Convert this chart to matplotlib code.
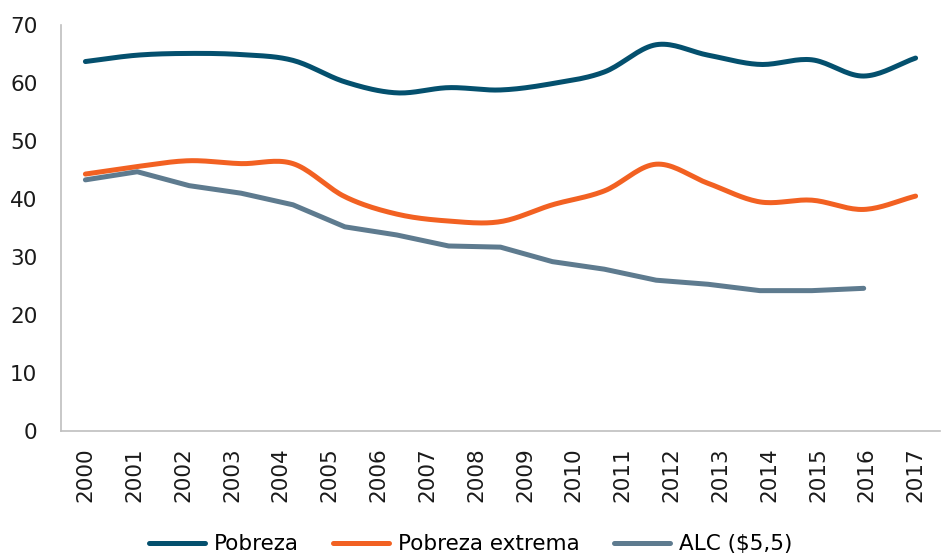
import matplotlib.pyplot as plt
import numpy as np

# etiquetas del eje
years = ['2000', '2001', '2002', '2003', '2004', '2005', '2006', '2007', '2008',
         '2009', '2010', '2011', '2012', '2013', '2014', '2015', '2016', '2017']

# series (17 puntos para pobreza, 16 para ALC)
pobreza = [63.7, 64.8, 65.1, 64.9, 63.9, 60.2, 58.3, 59.2, 58.8, 59.9, 61.9,
           66.6, 64.8, 63.2, 64.0, 61.2, 64.3]
pobreza_extrema = [44.3, 45.6, 46.6, 46.1, 46.1, 40.4, 37.4, 36.2, 36.1, 39.0,
                   41.4, 46.0, 42.7, 39.5, 39.8, 38.2, 40.5]
alc = [43.3, 44.7, 42.3, 41.0, 39.0, 35.2, 33.8, 31.9, 31.7, 29.2, 27.9, 26.0,
       25.3, 24.2, 24.2, 24.6]

c_pob = '#04506E'
c_ext = '#F26122'
c_alc = '#5E7B8F'


def suave(x, y, n=20):
    # curva suavizada tipo Excel (Catmull-Rom)
    x = np.asarray(x, float)
    y = np.asarray(y, float)
    px = np.concatenate([[2*x[0]-x[1]], x, [2*x[-1]-x[-2]]])
    py = np.concatenate([[2*y[0]-y[1]], y, [2*y[-1]-y[-2]]])
    xs, ys = [], []
    t = np.linspace(0, 1, n)
    for i in range(1, len(px)-2):
        p0, p1, p2, p3 = px[i-1], px[i], px[i+1], px[i+2]
        q0, q1, q2, q3 = py[i-1], py[i], py[i+1], py[i+2]
        bx = [p1, p1 + (p2-p0)/6, p2 - (p3-p1)/6, p2]
        by = [q1, q1 + (q2-q0)/6, q2 - (q3-q1)/6, q2]
        xs.append((1-t)**3*bx[0] + 3*(1-t)**2*t*bx[1] + 3*(1-t)*t**2*bx[2] + t**3*bx[3])
        ys.append((1-t)**3*by[0] + 3*(1-t)**2*t*by[1] + 3*(1-t)*t**2*by[2] + t**3*by[3])
    return np.concatenate(xs), np.concatenate(ys)


plt.rcParams['font.family'] = ['DejaVu Sans']

fig = plt.figure(figsize=(9.41, 5.53), dpi=100)
ax = fig.add_axes([61/941, 122/553, 879/941, 406/553])

paso = (len(years)-1) / (len(pobreza)-1)
xp = np.arange(len(pobreza)) * paso
xa = np.arange(len(alc)) * paso

sx, sy = suave(xp, pobreza)
ax.plot(sx, sy, color=c_pob, lw=3.6, solid_capstyle='round', label='Pobreza')
sx, sy = suave(xp, pobreza_extrema)
ax.plot(sx, sy, color=c_ext, lw=3.6, solid_capstyle='round', label='Pobreza extrema')
ax.plot(xa, alc, color=c_alc, lw=3.6, solid_capstyle='round', label='ALC ($5,5)')

ax.set_xlim(-0.5, len(years)-0.5)
ax.set_ylim(0, 70)
ax.set_yticks(range(0, 71, 10))
ax.set_xticks(range(len(years)))
ax.set_xticklabels(years, rotation=90)
ax.tick_params(length=0, labelsize=15.5, colors='#1a1a1a')
ax.tick_params(axis='y', pad=17)
ax.tick_params(axis='x', pad=12)
for s in ['top', 'right']:
    ax.spines[s].set_visible(False)
for s in ['left', 'bottom']:
    ax.spines[s].set_color('#BFBFBF')
    ax.spines[s].set_linewidth(1.2)

fig.legend(loc='lower center', bbox_to_anchor=(0.5, -0.037), ncol=3, frameon=False,
           fontsize=15.5, handlelength=2.6, columnspacing=1.6, handletextpad=0.4)

plt.savefig('out.png', dpi=100)
